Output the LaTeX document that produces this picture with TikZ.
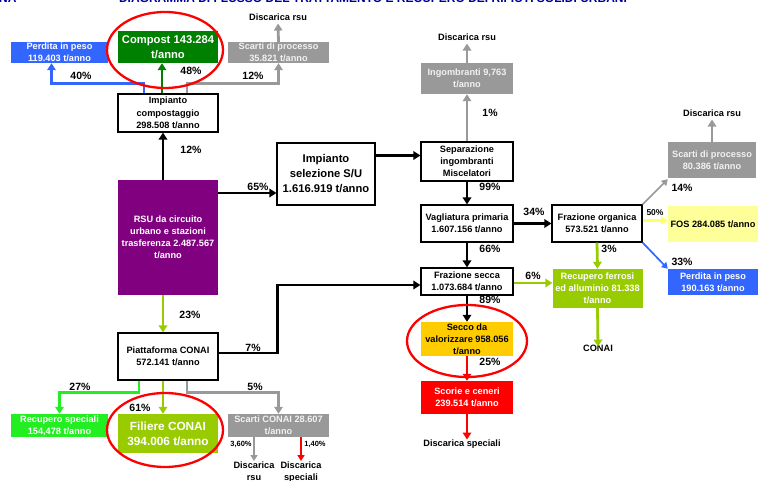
\documentclass[tikz,border=0pt]{standalone}
\usepackage{fontspec}
\setmainfont{Liberation Sans}
\usetikzlibrary{arrows.meta,positioning,calc}
\definecolor{cPurple}{HTML}{800080}
\definecolor{cDGreen}{HTML}{008000}
\definecolor{cBlue}{HTML}{3366FF}
\definecolor{cGray}{HTML}{999999}
\definecolor{cYG}{HTML}{99CC00}
\definecolor{cLG}{HTML}{22EE22}
\definecolor{cFos}{HTML}{FFFF99}
\definecolor{cFosArr}{HTML}{FFFF66}
\definecolor{cSecco}{HTML}{FFCC00}
\definecolor{cRed}{HTML}{FF0000}
\definecolor{cTitle}{HTML}{000099}
\definecolor{cTxtGray}{HTML}{F2F2F2}
\tikzset{
  fs/.style 2 args={font=\bfseries\fontsize{#1}{#2}\selectfont},
  wbox/.style={draw=black, line width=1.2pt, fill=white, align=center, inner sep=1pt, fs={9.2}{12}},
  cbox/.style={fill=#1, align=center, inner sep=1pt, fs={9.2}{12}, text=white},
  lbl/.style={fs={10.5}{12}, inner sep=0pt},
  slbl/.style={fs={8.5}{10}, inner sep=0pt},
  txt/.style={fs={9.2}{12}, align=center, inner sep=1pt},
  arr/.style={line width=2.8pt, draw=#1, -{Triangle[length=7pt,width=8.5pt]}},
  thin arr/.style={line width=1.7pt, draw=#1, -{Triangle[length=6pt,width=7pt]}},
  ell/.style={draw=cRed, line width=2.3pt},
}
\begin{document}
\begin{tikzpicture}[x=1pt,y=-1pt]
\useasboundingbox (0,0) rectangle (760,481);
% title (cut off at top, as in the reference)
\begin{scope}
\clip (0,0) rectangle (760,481);
\node[anchor=base, fs={12}{14}, text=cTitle, inner sep=0pt] (title) at (373,3) {DIAGRAMMA DI FLUSSO DEL TRATTAMENTO E RECUPERO DEI RIFIUTI SOLIDI URBANI};
\node[anchor=base west, fs={12}{14}, text=cTitle, inner sep=0pt] (na) at (-1,3) {NA};
\end{scope}

% ---- left column top
\node[cbox=cDGreen, fs={11.2}{15}, minimum width=100pt, minimum height=32pt] (compost) at (168,47) {Compost 143.284\\t/anno};
\node[cbox=cBlue, minimum width=97pt, minimum height=21pt] (perdita1) at (59.5,52.5) {Perdita in peso\\119.403 t/anno};
\node[cbox=cGray, text=cTxtGray, minimum width=101pt, minimum height=21pt] (scarti1) at (278.5,52.5) {Scarti di processo\\35.821 t/anno};
\node[txt] (discrsu1) at (278,17) {Discarica rsu};
\node[wbox, fs={9.2}{12.5}, minimum width=100pt, minimum height=38pt] (impcomp) at (168,113) {Impianto\\compostaggio\\298.508 t/anno};
\node[cbox=cPurple, minimum width=100pt, minimum height=115pt] (rsu) at (168,237.5) {RSU da circuito\\urbano e stazioni\\trasferenza 2.487.567\\t/anno};
\node[wbox, fs={11.2}{15}, minimum width=98pt, minimum height=62pt] (impsel) at (326,174) {Impianto\\selezione S/U\\1.616.919 t/anno};

% ---- middle column
\node[wbox, minimum width=92pt, minimum height=39pt] (sep) at (467,161.5) {Separazione\\ingombranti\\Miscelatori};
\node[cbox=cGray, text=cTxtGray, minimum width=92pt, minimum height=31pt] (ingom) at (467,78.5) {Ingombranti 9,763\\t/anno};
\node[txt] (discrsu2) at (467,37) {Discarica rsu};
\node[wbox, minimum width=92pt, minimum height=37pt] (vagl) at (467,223.5) {Vagliatura primaria\\1.607.156 t/anno};
\node[wbox, minimum width=92pt, minimum height=27pt] (frasec) at (467,281.5) {Frazione secca\\1.073.684 t/anno};
\node[cbox=cSecco, text=black, minimum width=92pt, minimum height=34pt] (secco) at (467,339) {Secco da\\valorizzare 958.056\\t/anno};
\node[cbox=cRed, minimum width=92pt, minimum height=33pt] (scorie) at (467,397.5) {Scorie e ceneri\\239.514 t/anno};
\node[txt] (discspec) at (462,444) {Discarica speciali};

% ---- right column
\node[wbox, minimum width=90pt, minimum height=37pt] (fraorg) at (597,223.5) {Frazione organica\\573.521 t/anno};
\node[cbox=cFos, text=black, minimum width=90pt, minimum height=36pt] (fos) at (713,224) {FOS 284.085 t/anno};
\node[cbox=cGray, text=cTxtGray, minimum width=88pt, minimum height=36pt] (scarti2) at (712,160) {Scarti di processo\\80.386 t/anno};
\node[txt] (discrsu3) at (712,113) {Discarica rsu};
\node[cbox=cBlue, minimum width=90pt, minimum height=26pt] (perdita2) at (713,282) {Perdita in peso\\190.163 t/anno};
\node[cbox=cYG, minimum width=90pt, minimum height=39pt] (recfer) at (597.5,288.5) {Recupero ferrosi\\ed alluminio 81.338\\t/anno};
\node[txt] (conai) at (598,348) {CONAI};

% ---- bottom left
\node[wbox, minimum width=100pt, minimum height=47pt] (piatt) at (168,356.5) {Piattaforma CONAI\\572.141 t/anno};
\node[cbox=cLG, minimum width=97pt, minimum height=23pt] (recspec) at (59.5,425.5) {Recupero speciali\\154,478 t/anno};
\node[cbox=cYG, fs={11.8}{15}, minimum width=100pt, minimum height=39pt] (filiere) at (168,433.5) {Filiere CONAI\\394.006 t/anno};
\node[cbox=cGray, text=cTxtGray, minimum width=101pt, minimum height=23pt] (scartic) at (278.5,425.5) {Scarti CONAI 28.607\\t/anno};
\node[txt, anchor=north] (discrsu4) at (254,461) {Discarica\\rsu};
\node[txt, anchor=north] (discspec2) at (301,461) {Discarica\\speciali};

% ---- connectors, top left
\draw[arr=cBlue] ([xshift=-24pt]impcomp.north) -- ++(0,-10) -| ([xshift=-8pt]perdita1.south);
\draw[arr=cDGreen] ([xshift=-6pt]impcomp.north) -- ([xshift=-6pt]compost.south);
\draw[arr=cGray] ([xshift=19pt]impcomp.north) -- ++(0,-10) -| (scarti1.south);
\draw[arr=cGray] (scarti1.north) -- ([yshift=-2pt]discrsu1.south);
\draw[arr=black] ([xshift=-5pt]rsu.north) -- ([xshift=-5pt]impcomp.south);
\path ([yshift=-19pt]impsel.west) coordinate (t1);
\draw[arr=black] (rsu.east |- t1) -- (t1);
\path ([yshift=6pt]sep.west) coordinate (t2);
\draw[arr=black] (impsel.east |- t2) -- (t2);

% ---- middle connectors
\draw[arr=cGray] (sep.north) -- (ingom.south);
\draw[arr=cGray] (ingom.north) -- ([yshift=-2pt]discrsu2.south);
\draw[arr=black] (sep.south) -- (vagl.north);
\draw[arr=black] (vagl.east) -- (fraorg.west);
\draw[arr=black] (vagl.south) -- (frasec.north);
\draw[arr=black] (frasec.south) -- (secco.north);
\draw[arr=cRed] (secco.south) -- (scorie.north);
\draw[arr=cRed] (scorie.south) -- ([yshift=-1pt]scorie.south |- discspec.north);
\path ([yshift=-1.5pt]frasec.east) coordinate (t3);
\draw[arr=cYG] (t3) -- (recfer.west |- t3);
\path ([yshift=-3.5pt]frasec.west) coordinate (t4);
\draw[arr=black] ([yshift=3.5pt]piatt.east) -- ++(59,0) |- (t4);

% ---- right connectors
\path ([yshift=3pt]fraorg.east) coordinate (t5);
\draw[arr=cFosArr] (t5) -- (fos.west |- t5);
\draw[thin arr=cGray] (fraorg.north east) -- ([yshift=-1pt]scarti2.south west);
\draw[thin arr=cBlue] (fraorg.south east) -- (perdita2.north west);
\draw[arr=cGray] (scarti2.north) -- ([yshift=-2pt]discrsu3.south);
\draw[arr=cYG] (fraorg.south) -- (recfer.north);
\draw[arr=cYG] (recfer.south) -- ([yshift=-3pt]conai.north);

% ---- bottom left connectors
\draw[arr=cYG] ([xshift=-5pt]rsu.south) -- ([xshift=-5pt]piatt.north);
\draw[arr=cLG] ([xshift=-29pt]piatt.south) -- ++(0,12) -| (recspec.north);
\draw[arr=cYG] ([xshift=-5pt]piatt.south) -- ([xshift=-5pt]filiere.north);
\draw[arr=cGray] ([xshift=19pt]piatt.south) -- ++(0,12) -| (scartic.north);
\draw[thin arr=cGray] (scartic.south -| discrsu4.north) -- (discrsu4.north);
\draw[thin arr=cRed] (scartic.south -| discspec2.north) -- (discspec2.north);

% ---- percentage labels
\node[lbl] (p40) at (81,76) {40\%};
\node[lbl] (p48) at (191,71) {48\%};
\node[lbl] (p12a) at (253,76) {12\%};
\node[lbl] (p12b) at (191,150) {12\%};
\node[lbl] (p65) at (258,187) {65\%};
\node[lbl] (p1) at (490,113) {1\%};
\node[lbl] (p99) at (490,187) {99\%};
\node[lbl] (p34) at (534,212) {34\%};
\node[slbl] (p50) at (655,213) {50\%};
\node[lbl] (p14) at (682,188) {14\%};
\node[lbl] (p33) at (682,262) {33\%};
\node[lbl] (p66) at (490,249) {66\%};
\node[lbl] (p3) at (609,249) {3\%};
\node[lbl] (p6) at (533,276) {6\%};
\node[lbl] (p89) at (490,300) {89\%};
\node[lbl] (p25) at (490,362) {25\%};
\node[lbl] (p23) at (190,315) {23\%};
\node[lbl] (p7) at (253,348) {7\%};
\node[lbl] (p27) at (80,387) {27\%};
\node[lbl] (p61) at (140,408) {61\%};
\node[lbl] (p5) at (255,387) {5\%};
\node[slbl, fs={7.5}{9}] (p360) at (241,444) {3,60\%};
\node[slbl, fs={7.5}{9}] (p140) at (315,444) {1,40\%};

% ---- red ellipses
\draw[ell] (165,50) ellipse [x radius=58, y radius=38];
\draw[ell] (165,430) ellipse [x radius=58, y radius=37];
\draw[ell] (467,341) ellipse [x radius=60, y radius=36];
\end{tikzpicture}
\end{document}
